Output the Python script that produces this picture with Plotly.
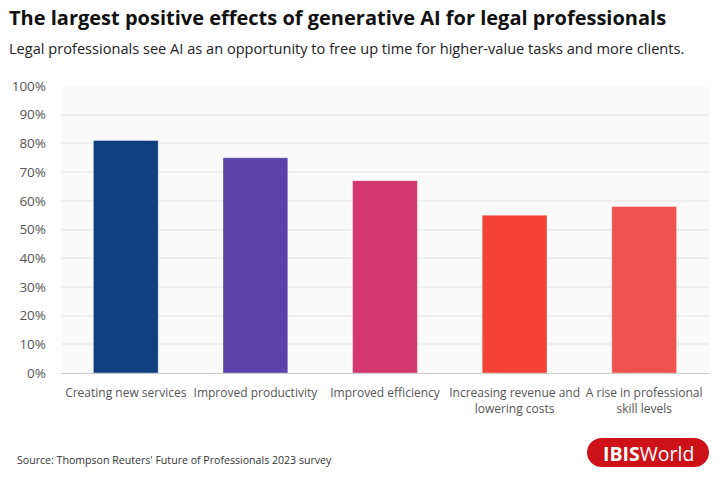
import math
import plotly.graph_objects as go

categories = ["Creating new services", "Improved productivity", "Improved efficiency",
              "Increasing revenue and<br>lowering costs", "A rise in professional<br>skill levels"]
values = [81, 75, 67, 55, 58]
colors = ["#0f3f7f", "#5943a9", "#d2386e", "#f44336", "#ee5350"]
y_ticks = [0, 10, 20, 30, 40, 50, 60, 70, 80, 90, 100]
y_tick_labels = [f"{v}%" for v in y_ticks]

FONT = "Open Sans"
L, R, T, B = 61, 11, 86, 107
PW, PH = 720 - L - R, 480 - T - B

def px(xp): return (xp - L) / PW
def py(yp): return (480 - B - yp) / PH

fig = go.Figure(go.Bar(
    x=categories, y=values,
    marker=dict(color=colors, line=dict(color="rgba(255,255,255,0.35)", width=1)),
    width=0.5,
))

fig.update_layout(
    width=720, height=480,
    margin=dict(l=L, r=R, t=T, b=B, autoexpand=False),
    paper_bgcolor="white", plot_bgcolor="#fafafa",
    font=dict(family=FONT, color="#555555"),
    showlegend=False,
    xaxis=dict(showgrid=False, showline=True, linecolor="#cccccc", linewidth=1, automargin=False,
               tickangle=0, tickfont=dict(size=12, color="#555555"), ticks="", ticklabelstandoff=9),
    yaxis=dict(range=[0, 100], tickvals=y_ticks, ticktext=y_tick_labels, automargin=False,
               showgrid=True, gridcolor="#efefef", gridwidth=2, zeroline=False,
               tickfont=dict(size=13.5, color="#555555"), ticklabelstandoff=14),
)

fig.add_annotation(text="<b>The largest positive effects of generative AI for legal professionals</b>",
                   xref="paper", yref="paper", x=px(7), y=py(17), xanchor="left", yanchor="middle",
                   showarrow=False, font=dict(size=20, color="#111111", family=FONT))
fig.add_annotation(text="Legal professionals see AI as an opportunity to free up time for higher-value tasks and more clients.",
                   xref="paper", yref="paper", x=px(7), y=py(48), xanchor="left", yanchor="middle",
                   showarrow=False, font=dict(size=14.6, color="#222222", family=FONT))
fig.add_annotation(text="Source: Thompson Reuters' Future of Professionals 2023 survey",
                   xref="paper", yref="paper", x=px(15), y=py(460), xanchor="left", yanchor="middle",
                   showarrow=False, font=dict(size=10.6, color="#333333", family=FONT))

# logo (rounded pill)
x0, x1, y0, y1 = 587, 709, 438, 467
r = (y1 - y0) / 2
pts = []
for i in range(0, 19):
    a = math.pi / 2 + math.pi * i / 18
    pts.append((x0 + r + r * math.cos(a), (y0 + y1) / 2 - r * math.sin(a)))
for i in range(0, 19):
    a = -math.pi / 2 + math.pi * i / 18
    pts.append((x1 - r + r * math.cos(a), (y0 + y1) / 2 - r * math.sin(a)))
path = "M " + " L ".join(f"{px(a):.5f},{py(b):.5f}" for a, b in pts) + " Z"
fig.add_shape(type="path", xref="paper", yref="paper", path=path,
              fillcolor="#cc1119", line=dict(width=0), layer="above")
fig.add_annotation(text="<b>IBIS</b>World", xref="paper", yref="paper",
                   x=px((x0 + x1) / 2 + 0.5), y=py((y0 + y1) / 2 + 0.5), xanchor="center", yanchor="middle",
                   showarrow=False, font=dict(size=19.5, color="white", family=FONT))

fig.write_html("out.html", config={"displayModeBar": False},
               post_script="document.body.style.margin='0px';")
